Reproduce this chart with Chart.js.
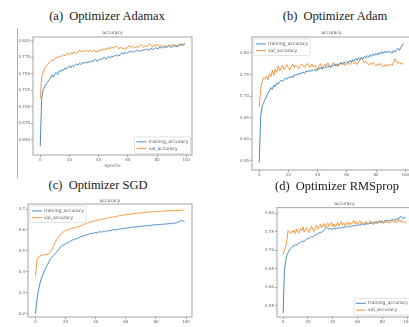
<!DOCTYPE html>
<html><head><meta charset="utf-8">
<script src="https://cdn.jsdelivr.net/npm/chart.js@4/dist/chart.umd.min.js"></script>
<style>
html,body{margin:0;padding:0;background:#fff;}
body{width:409px;height:327px;position:relative;overflow:hidden;}
.box{position:absolute;}
.box canvas{display:block;}
.cap{position:absolute;font-family:"Liberation Serif","Times New Roman",serif;font-size:12.5px;color:#1a1a1a;white-space:pre;text-align:center;line-height:14px;width:200px;}
.vline{position:absolute;left:17px;top:28px;width:1px;height:150px;background:#b0b0b0;}
</style></head><body>
<div class="vline"></div>
<div class="box" style="left:0;top:24px;width:200px;height:146px"><canvas id="cA" width="200" height="146"></canvas></div>
<div class="box" style="left:205px;top:24px;width:215px;height:156px"><canvas id="cB" width="215" height="156"></canvas></div>
<div class="box" style="left:0;top:192px;width:200px;height:135px"><canvas id="cC" width="200" height="135"></canvas></div>
<div class="box" style="left:205px;top:192px;width:210px;height:135px"><canvas id="cD" width="210" height="135"></canvas></div>
<div class="cap" style="left:7px;top:9px">(a)  Optimizer Adamax</div>
<div class="cap" style="left:235px;top:9px">(b)  Optimizer Adam</div>
<div class="cap" style="left:-2px;top:178px">(c)  Optimizer SGD</div>
<div class="cap" style="left:237px;top:179px">(d)  Optimizer RMSprop</div>
<script>
const seriesNames = ['training_accuracy', 'val_accuracy'];
const xTicks = [0, 20, 40, 60, 80, 100];

// (a) Adamax
const adamaxYTicks = [0.650, 0.675, 0.700, 0.725, 0.750, 0.775, 0.800];
const adamaxTrain = [0.640,0.712,0.726,0.730,0.735,0.737,0.741,0.743,0.748,0.745,
0.750,0.752,0.749,0.755,0.753,0.757,0.755,0.759,0.757,0.760,
0.762,0.759,0.763,0.761,0.764,0.765,0.763,0.766,0.764,0.767,
0.766,0.768,0.766,0.769,0.767,0.770,0.768,0.771,0.772,0.769,
0.771,0.773,0.771,0.774,0.775,0.772,0.775,0.776,0.774,0.777,
0.776,0.778,0.777,0.779,0.777,0.780,0.782,0.780,0.783,0.781,
0.782,0.784,0.783,0.785,0.783,0.784,0.786,0.785,0.784,0.786,
0.785,0.787,0.786,0.788,0.786,0.787,0.789,0.787,0.788,0.790,
0.788,0.789,0.791,0.789,0.790,0.792,0.790,0.791,0.793,0.791,
0.790,0.792,0.794,0.792,0.791,0.793,0.795,0.793,0.794,0.796];
const adamaxVal = [0.712,0.745,0.752,0.758,0.762,0.764,0.767,0.769,0.771,0.770,
0.773,0.775,0.774,0.777,0.776,0.778,0.779,0.777,0.780,0.781,
0.779,0.782,0.780,0.783,0.782,0.781,0.784,0.786,0.783,0.785,
0.784,0.786,0.785,0.783,0.786,0.785,0.784,0.786,0.783,0.785,
0.784,0.787,0.785,0.788,0.786,0.789,0.787,0.790,0.788,0.791,
0.789,0.790,0.792,0.790,0.788,0.791,0.789,0.787,0.790,0.788,
0.791,0.793,0.790,0.792,0.791,0.789,0.792,0.790,0.793,0.795,
0.792,0.790,0.793,0.791,0.794,0.796,0.793,0.791,0.794,0.792,
0.795,0.793,0.791,0.794,0.792,0.790,0.793,0.791,0.794,0.792,
0.795,0.793,0.791,0.794,0.792,0.795,0.793,0.796,0.794,0.797];

// (b) Adam
const adamYTicks = [0.55, 0.60, 0.65, 0.70, 0.75, 0.80];
const adamTrain = [0.546,0.655,0.676,0.685,0.692,0.700,0.706,0.712,0.720,0.716,
0.726,0.722,0.730,0.728,0.733,0.737,0.734,0.739,0.742,0.739,
0.744,0.742,0.747,0.743,0.750,0.748,0.752,0.749,0.754,0.752,
0.756,0.753,0.758,0.756,0.760,0.756,0.761,0.759,0.762,0.758,
0.764,0.762,0.766,0.763,0.767,0.765,0.769,0.766,0.771,0.767,
0.772,0.770,0.774,0.770,0.775,0.773,0.777,0.774,0.779,0.776,
0.780,0.777,0.783,0.779,0.785,0.781,0.787,0.783,0.789,0.785,
0.790,0.786,0.792,0.788,0.794,0.790,0.796,0.792,0.798,0.794,
0.799,0.795,0.801,0.797,0.803,0.799,0.804,0.800,0.805,0.801,
0.803,0.799,0.806,0.802,0.808,0.811,0.806,0.813,0.818,0.822];
const adamVal = [0.675,0.716,0.734,0.743,0.740,0.746,0.738,0.752,0.745,0.760,
0.748,0.763,0.755,0.770,0.758,0.765,0.771,0.762,0.768,0.773,
0.765,0.760,0.770,0.774,0.766,0.772,0.768,0.763,0.771,0.775,
0.769,0.766,0.772,0.776,0.770,0.767,0.774,0.768,0.772,0.765,
0.760,0.771,0.775,0.762,0.770,0.774,0.768,0.777,0.771,0.766,
0.773,0.778,0.770,0.775,0.768,0.773,0.779,0.772,0.776,0.770,
0.774,0.779,0.773,0.777,0.781,0.775,0.779,0.773,0.778,0.784,
0.789,0.783,0.777,0.781,0.776,0.772,0.777,0.773,0.778,0.774,
0.770,0.775,0.771,0.776,0.772,0.768,0.773,0.769,0.774,0.770,
0.775,0.771,0.779,0.787,0.781,0.776,0.779,0.774,0.777,0.773];

// (c) SGD
const sgdYTicks = [0.2, 0.3, 0.4, 0.5, 0.6, 0.7];
const sgdTrain = [0.200,0.268,0.312,0.345,0.370,0.388,0.405,0.420,0.434,0.448,
0.462,0.470,0.478,0.486,0.494,0.503,0.510,0.522,0.528,0.526,
0.535,0.540,0.538,0.546,0.550,0.553,0.555,0.558,0.560,0.564,
0.567,0.570,0.572,0.575,0.577,0.579,0.581,0.584,0.582,0.586,
0.588,0.585,0.590,0.592,0.589,0.594,0.591,0.596,0.594,0.598,
0.596,0.600,0.603,0.599,0.604,0.602,0.606,0.604,0.608,0.606,
0.610,0.608,0.612,0.610,0.614,0.612,0.616,0.614,0.617,0.615,
0.619,0.617,0.620,0.618,0.622,0.620,0.623,0.621,0.625,0.623,
0.626,0.624,0.627,0.625,0.628,0.626,0.630,0.627,0.631,0.629,
0.633,0.630,0.634,0.632,0.636,0.639,0.642,0.646,0.643,0.639];
const sgdVal = [0.378,0.455,0.470,0.476,0.479,0.481,0.482,0.483,0.484,0.488,
0.496,0.508,0.522,0.538,0.552,0.564,0.574,0.582,0.588,0.593,
0.597,0.600,0.603,0.605,0.607,0.609,0.611,0.613,0.615,0.617,
0.619,0.622,0.625,0.629,0.632,0.635,0.637,0.639,0.641,0.643,
0.645,0.646,0.648,0.649,0.651,0.652,0.654,0.655,0.657,0.658,
0.660,0.661,0.662,0.664,0.665,0.667,0.668,0.669,0.671,0.672,
0.673,0.674,0.675,0.676,0.677,0.678,0.678,0.679,0.680,0.681,
0.682,0.682,0.683,0.684,0.684,0.685,0.686,0.686,0.687,0.687,
0.688,0.688,0.689,0.689,0.690,0.690,0.690,0.691,0.691,0.692,
0.692,0.692,0.693,0.693,0.693,0.694,0.694,0.693,0.696,0.695];

// (d) RMSprop
const rmsYTicks = [0.55, 0.60, 0.65, 0.70, 0.75, 0.80];
const rmsTrain = [0.530,0.645,0.672,0.686,0.694,0.700,0.704,0.708,0.711,0.713,
0.715,0.714,0.718,0.720,0.722,0.723,0.725,0.724,0.728,0.730,
0.732,0.731,0.735,0.737,0.736,0.740,0.742,0.741,0.745,0.747,
0.749,0.748,0.752,0.755,0.758,0.762,0.760,0.757,0.759,0.756,
0.758,0.760,0.757,0.759,0.761,0.759,0.762,0.760,0.763,0.761,
0.764,0.762,0.765,0.763,0.766,0.764,0.767,0.765,0.768,0.766,
0.769,0.767,0.770,0.768,0.771,0.769,0.772,0.770,0.773,0.771,
0.774,0.772,0.775,0.773,0.776,0.774,0.777,0.775,0.778,0.776,
0.779,0.777,0.780,0.778,0.781,0.779,0.782,0.780,0.783,0.781,
0.784,0.782,0.786,0.784,0.789,0.792,0.788,0.785,0.789,0.787];
const rmsVal = [0.688,0.700,0.708,0.727,0.754,0.750,0.746,0.752,0.748,0.755,
0.745,0.758,0.750,0.747,0.760,0.752,0.763,0.749,0.757,0.762,
0.754,0.748,0.760,0.765,0.755,0.751,0.762,0.768,0.757,0.764,
0.770,0.760,0.766,0.772,0.762,0.768,0.774,0.764,0.770,0.776,
0.765,0.771,0.762,0.768,0.775,0.766,0.772,0.778,0.768,0.774,
0.766,0.771,0.777,0.769,0.775,0.770,0.776,0.781,0.772,0.777,
0.770,0.775,0.779,0.771,0.776,0.768,0.773,0.778,0.770,0.775,
0.780,0.772,0.777,0.769,0.774,0.779,0.771,0.776,0.781,0.773,
0.778,0.772,0.777,0.782,0.774,0.779,0.773,0.778,0.783,0.775,
0.780,0.774,0.779,0.784,0.776,0.781,0.775,0.779,0.777,0.772];

const epochs = adamaxTrain.map((_, i) => i);
const BLUE = '#4a8cc6', ORANGE = '#f7963f';
const TICK_FONT = {family: '"DejaVu Sans", sans-serif', size: 4};
const SMALL_FONT = {family: '"DejaVu Sans", sans-serif', size: 4.5, lineHeight: 1.2, weight: 'normal'};

const framePlugin = {
  id: 'frame',
  afterDatasetsDraw(chart) {
    const {ctx, chartArea: a} = chart;
    ctx.save();
    ctx.strokeStyle = '#9a9a9a';
    ctx.lineWidth = 0.9;
    ctx.strokeRect(a.left, a.top, a.right - a.left, a.bottom - a.top);
    ctx.restore();
  }
};

const legendPlugin = {
  id: 'boxLegend',
  afterDraw(chart, args, o) {
    if (!o || !o.corner) return;
    const ctx = chart.ctx, a = chart.chartArea;
    const ds = chart.data.datasets;
    ctx.save();
    ctx.font = '4.5px "DejaVu Sans", sans-serif';
    const tw = Math.max(...ds.map(d => ctx.measureText(d.label).width));
    const rowH = 6.8;
    const w = 2 + 10 + 2 + tw + 2, h = ds.length * rowH + 3;
    const x0 = o.corner[1] === 'l' ? a.left + o.inset : a.right - o.inset - w;
    const y0 = o.corner[0] === 'u' ? a.top + o.inset : a.bottom - o.inset - h;
    ctx.fillStyle = 'rgba(255,255,255,0.85)';
    ctx.strokeStyle = '#d6d6d6';
    ctx.lineWidth = 0.7;
    ctx.beginPath();
    ctx.roundRect(x0, y0, w, h, 1.2);
    ctx.fill(); ctx.stroke();
    ds.forEach((d, i) => {
      const cy = y0 + 1.5 + rowH * (i + 0.5);
      ctx.strokeStyle = d.borderColor;
      ctx.lineWidth = 1;
      ctx.beginPath(); ctx.moveTo(x0 + 2, cy); ctx.lineTo(x0 + 12, cy); ctx.stroke();
      ctx.fillStyle = '#555';
      ctx.textBaseline = 'middle';
      ctx.fillText(d.label, x0 + 14, cy);
    });
    ctx.restore();
  }
};

function makeChart(id, p) {
  const ds = [p.train, p.val].map((vals, k) => ({
    label: seriesNames[k],
    data: vals.map((v, i) => ({x: epochs[i], y: v})),
    borderColor: k === 0 ? BLUE : ORANGE,
    borderWidth: 1,
    pointRadius: 0,
    tension: 0,
    fill: false
  }));
  return new Chart(document.getElementById(id), {
    type: 'line',
    data: {datasets: ds},
    plugins: [framePlugin, legendPlugin],
    options: {
      responsive: false,
      animation: false,
      devicePixelRatio: 1,
      layout: {autoPadding: false, padding: {left: 0, top: 0, right: p.padRight, bottom: 0}},
      plugins: {
        legend: {display: false},
        tooltip: {enabled: false},
        title: {display: true, text: 'accuracy', fullSize: false, color: '#555',
          font: SMALL_FONT, padding: {top: p.titleTop, bottom: p.titleBottom}},
        boxLegend: {corner: p.corner, inset: p.inset}
      },
      scales: {
        x: {
          type: 'linear', min: -4.95, max: 103.95,
          afterBuildTicks: ax => { ax.ticks = xTicks.map(v => ({value: v})); },
          afterFit: ax => { ax.height = p.xH; },
          ticks: {font: TICK_FONT, color: '#666', padding: 1, maxRotation: 0, autoSkip: false},
          grid: {display: true, drawOnChartArea: false, drawTicks: true, tickLength: 2, color: '#8a8a8a', lineWidth: 0.8},
          border: {display: false},
          title: p.xTitle ? {display: true, text: p.xTitle, color: '#666', font: SMALL_FONT, padding: {top: 0, bottom: 1.3}} : {display: false}
        },
        y: {
          type: 'linear', min: p.yMin, max: p.yMax,
          afterBuildTicks: ax => { ax.ticks = p.yTicks.map(v => ({value: v})); },
          afterFit: ax => { ax.width = p.yW; },
          ticks: {font: TICK_FONT, color: '#666', padding: 1, callback: v => Number(v).toFixed(p.dec)},
          grid: {display: true, drawOnChartArea: false, drawTicks: true, tickLength: 2, color: '#8a8a8a', lineWidth: 0.8},
          border: {display: false}
        }
      }
    }
  });
}

makeChart('cA', {train: adamaxTrain, val: adamaxVal, yTicks: adamaxYTicks, dec: 3,
  yMin: 0.6264, yMax: 0.806, yW: 33, padRight: 8, xH: 15, titleTop: 6, titleBottom: 1.6,
  xTitle: 'epochs', corner: 'lr', inset: 1.5});
makeChart('cB', {train: adamTrain, val: adamVal, yTicks: adamYTicks, dec: 2,
  yMin: 0.529, yMax: 0.837, yW: 47, padRight: 9, xH: 10, titleTop: 6, titleBottom: 1.6,
  corner: 'ul', inset: 2});
makeChart('cC', {train: sgdTrain, val: sgdVal, yTicks: sgdYTicks, dec: 1,
  yMin: 0.184, yMax: 0.724, yW: 28, padRight: 8, xH: 10, titleTop: 6, titleBottom: 0.6,
  corner: 'ul', inset: 2});
makeChart('cD', {train: rmsTrain, val: rmsVal, yTicks: rmsYTicks, dec: 2,
  yMin: 0.520, yMax: 0.815, yW: 72, padRight: 3, xH: 10, titleTop: 9, titleBottom: 1.3,
  corner: 'lr', inset: 2});
</script>
</body></html>
